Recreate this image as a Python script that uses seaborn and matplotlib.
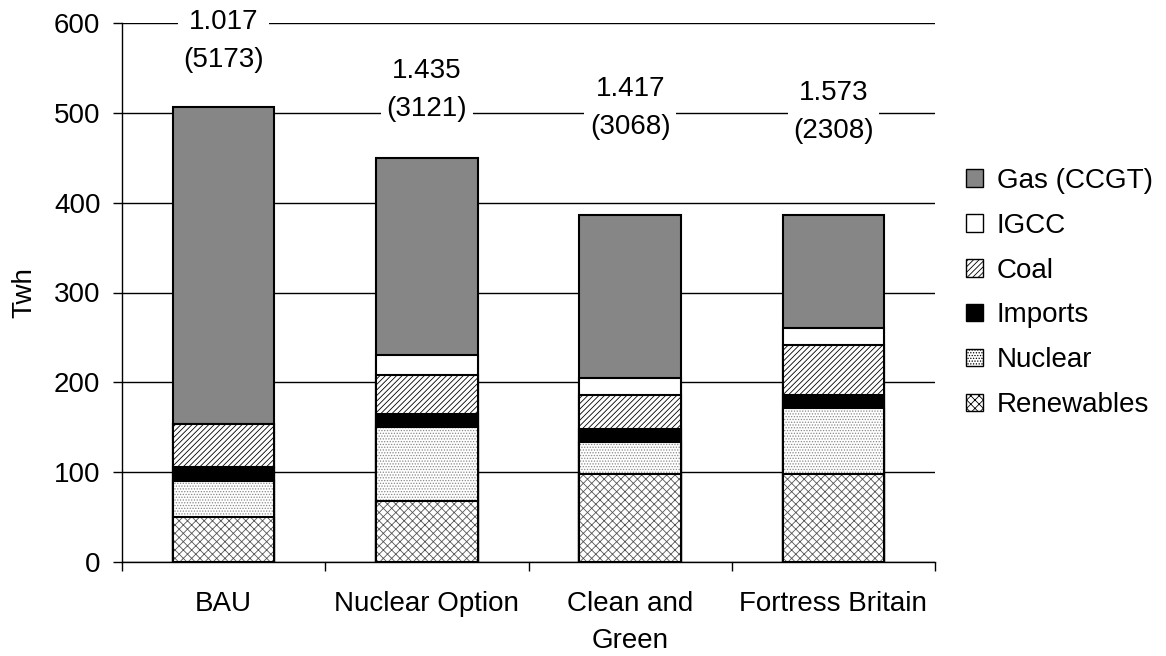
import matplotlib
matplotlib.use("Agg")
import matplotlib.pyplot as plt
from matplotlib.patches import Patch
import numpy as np
import seaborn as sns


SCENARIOS = ["BAU", "Nuclear Option", "Clean and Green", "Fortress Britain"]
TICK_LABELS = ["BAU", "Nuclear Option", "Clean and\nGreen", "Fortress Britain"]

# stack order, bottom to top
RENEWABLES = [50, 68, 98, 98]
NUCLEAR = [40, 82, 36, 73]
IMPORTS = [16, 15, 14, 15]
COAL = [48, 43, 38, 56]
IGCC = [0, 22, 19, 18]
GAS = [352, 220, 181, 126]

COST_LABELS = ["1.017\n(5173)", "1.435\n(3121)", "1.417\n(3068)", "1.573\n(2308)"]
LABEL_Y = [580, 525, 505, 501]

LAYERS = [
    ("Renewables", RENEWABLES, dict(facecolor="white", hatch="xxxx", hatch_color="#555555")),
    ("Nuclear", NUCLEAR, dict(facecolor="white", hatch="......", hatch_color="#888888")),
    ("Imports", IMPORTS, dict(facecolor="black", hatch=None, hatch_color=None)),
    ("Coal", COAL, dict(facecolor="white", hatch="//////", hatch_color="black")),
    ("IGCC", IGCC, dict(facecolor="white", hatch=None, hatch_color=None)),
    ("Gas (CCGT)", GAS, dict(facecolor="#868686", hatch=None, hatch_color=None)),
]


def style_patch(patch, style, lw):
    patch.set_facecolor(style["facecolor"])
    patch.set_edgecolor("black")
    patch.set_linewidth(lw)
    if style["hatch"]:
        patch.set_hatch(style["hatch"])
        patch._hatch_color = matplotlib.colors.to_rgba(style["hatch_color"])


def main():
    sns.set_theme(style="ticks")
    plt.rcParams["font.family"] = ["Liberation Sans", "DejaVu Sans"]
    plt.rcParams["hatch.linewidth"] = 0.6
    plt.rcParams["font.size"] = 20
    plt.rcParams["text.color"] = "black"

    fig = plt.figure(figsize=(11.66, 6.56), dpi=100)
    ax = fig.add_axes([122 / 1166, 1 - 562 / 656, (935 - 122) / 1166, (562 - 23) / 656])

    cumulative = np.cumsum([layer[1] for layer in LAYERS], axis=0)

    # draw the tallest cumulative bar first, then cover it with the lower ones
    for idx in range(len(LAYERS) - 1, -1, -1):
        name, _, style = LAYERS[idx]
        before = len(ax.patches)
        sns.barplot(
            x=SCENARIOS,
            y=cumulative[idx],
            order=SCENARIOS,
            color="white",
            saturation=1,
            width=0.5,
            errorbar=None,
            ax=ax,
        )
        for patch in ax.patches[before:]:
            style_patch(patch, style, 1.5)

    ax.set_xlim(-0.5, 3.5)
    ax.set_ylim(0, 600)
    ax.set_yticks(np.arange(0, 601, 100))
    ax.set_axisbelow(True)
    ax.yaxis.grid(True, color="black", linewidth=1)
    ax.xaxis.grid(False)
    for side in ["top", "right"]:
        ax.spines[side].set_visible(False)
    for side in ["left", "bottom"]:
        ax.spines[side].set_color("black")
        ax.spines[side].set_linewidth(1)

    ax.set_xticks(range(len(SCENARIOS)))
    ax.set_xticklabels(TICK_LABELS, fontsize=20)
    for label in ax.get_xticklabels():
        label.set_linespacing(1.55)
    ax.set_xticks(np.arange(-0.5, 3.6, 1), minor=True)
    ax.tick_params(axis="x", which="major", length=0, pad=21, colors="black")
    ax.tick_params(axis="x", which="minor", length=6.5, width=1, color="black")
    ax.tick_params(axis="y", length=6.5, width=1, pad=9, labelsize=20, colors="black")

    ax.set_xlabel("")
    ax.set_ylabel("Twh", fontsize=20, labelpad=12, color="black")

    for i, (text, y) in enumerate(zip(COST_LABELS, LABEL_Y)):
        ax.text(
            i, y, text,
            ha="center", va="center", fontsize=20, linespacing=1.6, color="black",
            bbox=dict(facecolor="white", edgecolor="none", pad=4),
            clip_on=False, zorder=5,
        )

    handles = []
    for name, _, style in reversed(LAYERS):
        handle = Patch(facecolor=style["facecolor"], edgecolor="black", linewidth=1,
                       hatch=style["hatch"], label=name)
        handles.append(handle)
    fig.legend(
        handles=handles,
        loc="center left",
        bbox_to_anchor=(966 / 1166, 1 - 293 / 656),
        frameon=False,
        fontsize=20,
        handlelength=0.6,
        handleheight=0.6,
        handletextpad=0.5,
        labelspacing=0.68,
        borderpad=0,
        borderaxespad=0,
    )

    fig.savefig("out.png", dpi=100)
    plt.close(fig)


if __name__ == "__main__":
    main()
